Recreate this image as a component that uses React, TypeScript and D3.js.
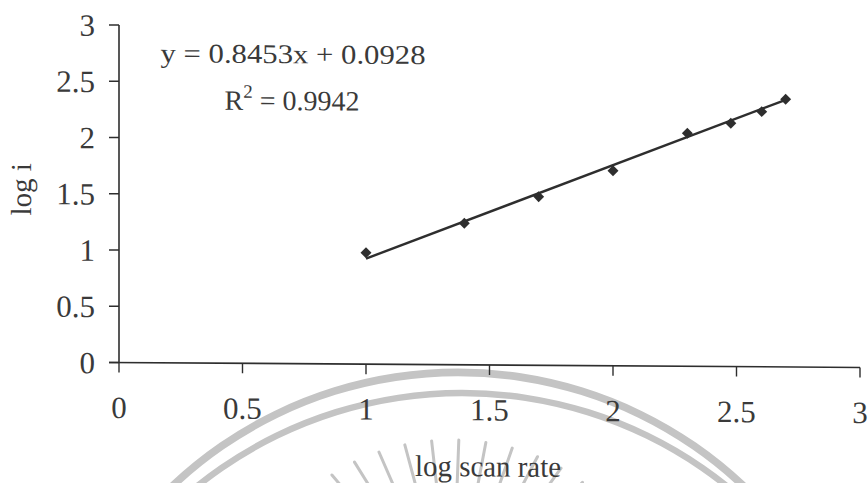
import React from "react";
import * as d3 from "d3";

const logScanRate = [1, 1.398, 1.699, 2, 2.301, 2.477, 2.602, 2.699];
const logI = [0.99, 1.258, 1.499, 1.734, 2.071, 2.163, 2.268, 2.379];
const xTicks = [0, 0.5, 1, 1.5, 2, 2.5, 3];
const yTicks = [0, 0.5, 1, 1.5, 2, 2.5, 3];
const slope = 0.8453;
const intercept = 0.0928;
const equationText = "y = 0.8453x + 0.0928";
const r2Value = "0.9942";

const W = 868;
const H = 483;
const INK = "#2e2e2e";
const TXT = "#3a3a3a";
const WM = "#c4c4c4";
const FONT = "'Liberation Serif', 'Times New Roman', serif";

export default function App() {
  const x = d3.scaleLinear().domain([0, 3]).range([119, 860]);
  const y = d3.scaleLinear().domain([0, 3]).range([362.5, 25]);
  const skew = 0.00666;
  const line = d3
    .line<number>()
    .x((d) => x(d))
    .y((d) => y(slope * d + intercept));
  const xs = [logScanRate[0], logScanRate[logScanRate.length - 1]];
  const marker = d3.symbol(d3.symbolSquare, 60)();

  const outer = d3.arc()({
    innerRadius: 411.8,
    outerRadius: 419.4,
    startAngle: -Math.PI / 2.6,
    endAngle: Math.PI / 2.6,
  } as any);
  const inner = d3.arc()({
    innerRadius: 419.8,
    outerRadius: 426.2,
    startAngle: -Math.PI / 2.6,
    endAngle: Math.PI / 2.6,
  } as any);
  const rayAngles = d3.range(-160, -15, 8);
  const rays = rayAngles.map((a) => {
    const t = (a * Math.PI) / 180;
    const cx = 452,
      cy = 605;
    const x1 = cx + Math.cos(t) * 195;
    const y1 = cy + Math.sin(t) * 165;
    const x2 = cx + Math.cos(t) * 125;
    const y2 = cy + Math.sin(t) * 100;
    return { x1, y1, x2, y2 };
  });

  return (
    <svg width={W} height={H} style={{ position: "absolute", left: 0, top: 0, background: "#fff" }}>
      <rect width={W} height={H} fill="#fff" />
      <g>
        <path d={outer || ""} transform="translate(458,788)" fill={WM} />
        <path d={inner || ""} transform="translate(462,816)" fill={WM} />
        {rays.map((r, i) => (
          <line key={i} x1={r.x1} y1={r.y1} x2={r.x2} y2={r.y2} stroke={WM} strokeWidth={3} strokeLinecap="round" />
        ))}
      </g>
      <g transform={`matrix(1, ${skew}, 0, 1, 0, ${-skew * 119})`} fontFamily={FONT} fill={TXT}>
        <line x1={x(0)} y1={y(3)} x2={x(0)} y2={y(0)} stroke={INK} strokeWidth={1.6} />
        {yTicks.map((t) => (
          <g key={"y" + t}>
            <line x1={x(0) - 10} x2={x(0)} y1={y(t)} y2={y(t)} stroke={INK} strokeWidth={1.4} />
            <text x={95} y={y(t) + 11} fontSize={31} textAnchor="end">
              {t}
            </text>
          </g>
        ))}
        <line x1={x(0) - 10} y1={y(0)} x2={x(3)} y2={y(0)} stroke={INK} strokeWidth={1.6} />
        {xTicks.map((t) => (
          <g key={"x" + t}>
            <line x1={x(t)} x2={x(t)} y1={y(0)} y2={y(0) + 10} stroke={INK} strokeWidth={1.4} />
            <text x={x(t)} y={418} fontSize={31} textAnchor="middle">
              {t}
            </text>
          </g>
        ))}
        <path d={line(xs) || ""} fill="none" stroke={INK} strokeWidth={2.4} />
        {logScanRate.map((v, i) => (
          <path
            key={i}
            d={marker || ""}
            transform={`translate(${x(v)},${y(logI[i])}) rotate(45)`}
            fill={INK}
          />
        ))}
        <text x={293} y={62} fontSize={27} textAnchor="middle" textLength={265} lengthAdjust="spacingAndGlyphs">
          {equationText}
        </text>
        <text x={292} y={109} fontSize={28} textAnchor="middle">
          R<tspan fontSize={19} dy={-12}>2</tspan>
          <tspan dy={12}>{" = " + r2Value}</tspan>
        </text>
        <text x={488} y={474} fontSize={30} textAnchor="middle" textLength={146} lengthAdjust="spacingAndGlyphs">
          log scan rate
        </text>
        <text transform="translate(31,190) rotate(-90)" fontSize={29} textAnchor="middle">
          log i
        </text>
      </g>
    </svg>
  );
}
